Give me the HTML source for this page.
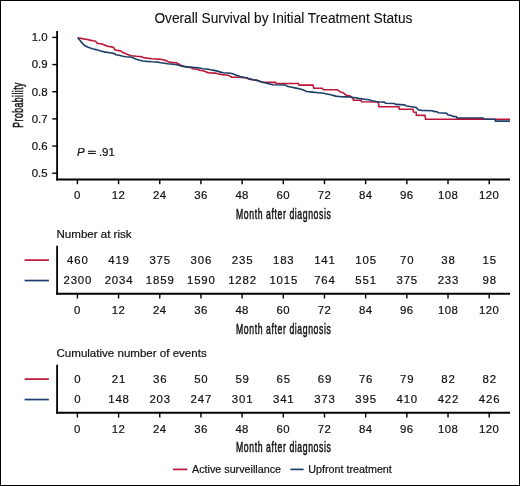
<!DOCTYPE html><html><head><meta charset="utf-8"><style>html,body{margin:0;padding:0;background:#fff;}svg{display:block;will-change:transform;}text{font-family:"Liberation Sans",sans-serif;fill:#111;stroke:#111;stroke-width:0.2px;}.cd{stroke-width:0.5px;}</style></head><body>
<svg width="520" height="486" viewBox="0 0 520 486">
<rect x="0" y="0" width="520" height="486" fill="#fff"/>
<rect x="0.5" y="0.5" width="519" height="485" fill="none" stroke="#000" stroke-width="1"/>
<text x="283.4" y="22.7" font-size="14" text-anchor="middle" textLength="258" style="stroke-width:0.1px" lengthAdjust="spacingAndGlyphs">Overall Survival by Initial Treatment Status</text>
<g stroke="#000" fill="none">
<line x1="57.1" y1="30.9" x2="57.1" y2="180.6" stroke-width="1.8"/>
<line x1="56.2" y1="179.6" x2="510" y2="179.6" stroke-width="2"/>
<line x1="52.3" y1="37.40" x2="57" y2="37.40" stroke-width="1.4"/>
<line x1="52.3" y1="64.56" x2="57" y2="64.56" stroke-width="1.4"/>
<line x1="52.3" y1="91.72" x2="57" y2="91.72" stroke-width="1.4"/>
<line x1="52.3" y1="118.88" x2="57" y2="118.88" stroke-width="1.4"/>
<line x1="52.3" y1="146.04" x2="57" y2="146.04" stroke-width="1.4"/>
<line x1="52.3" y1="173.20" x2="57" y2="173.20" stroke-width="1.4"/>
<line x1="77.40" y1="180" x2="77.40" y2="184.2" stroke-width="1.4"/>
<line x1="118.58" y1="180" x2="118.58" y2="184.2" stroke-width="1.4"/>
<line x1="159.76" y1="180" x2="159.76" y2="184.2" stroke-width="1.4"/>
<line x1="200.94" y1="180" x2="200.94" y2="184.2" stroke-width="1.4"/>
<line x1="242.12" y1="180" x2="242.12" y2="184.2" stroke-width="1.4"/>
<line x1="283.30" y1="180" x2="283.30" y2="184.2" stroke-width="1.4"/>
<line x1="324.48" y1="180" x2="324.48" y2="184.2" stroke-width="1.4"/>
<line x1="365.66" y1="180" x2="365.66" y2="184.2" stroke-width="1.4"/>
<line x1="406.84" y1="180" x2="406.84" y2="184.2" stroke-width="1.4"/>
<line x1="448.02" y1="180" x2="448.02" y2="184.2" stroke-width="1.4"/>
<line x1="489.20" y1="180" x2="489.20" y2="184.2" stroke-width="1.4"/>
</g>
<text x="47.6" y="41.20" font-size="11.4" text-anchor="end">1.0</text>
<text x="47.6" y="68.36" font-size="11.4" text-anchor="end">0.9</text>
<text x="47.6" y="95.52" font-size="11.4" text-anchor="end">0.8</text>
<text x="47.6" y="122.68" font-size="11.4" text-anchor="end">0.7</text>
<text x="47.6" y="149.84" font-size="11.4" text-anchor="end">0.6</text>
<text x="47.6" y="177.00" font-size="11.4" text-anchor="end">0.5</text>
<text x="77.40" y="199.4" font-size="11.4" text-anchor="middle" letter-spacing="0.4">0</text>
<text x="118.58" y="199.4" font-size="11.4" text-anchor="middle" letter-spacing="0.4">12</text>
<text x="159.76" y="199.4" font-size="11.4" text-anchor="middle" letter-spacing="0.4">24</text>
<text x="200.94" y="199.4" font-size="11.4" text-anchor="middle" letter-spacing="0.4">36</text>
<text x="242.12" y="199.4" font-size="11.4" text-anchor="middle" letter-spacing="0.4">48</text>
<text x="283.30" y="199.4" font-size="11.4" text-anchor="middle" letter-spacing="0.4">60</text>
<text x="324.48" y="199.4" font-size="11.4" text-anchor="middle" letter-spacing="0.4">72</text>
<text x="365.66" y="199.4" font-size="11.4" text-anchor="middle" letter-spacing="0.4">84</text>
<text x="406.84" y="199.4" font-size="11.4" text-anchor="middle" letter-spacing="0.4">96</text>
<text x="448.02" y="199.4" font-size="11.4" text-anchor="middle" letter-spacing="0.4">108</text>
<text x="489.20" y="199.4" font-size="11.4" text-anchor="middle" letter-spacing="0.4">120</text>
<text transform="translate(22.6,104.9) rotate(-90) scale(0.62,1)" x="0" y="0" font-size="14" text-anchor="middle" letter-spacing="0.74" class="cd">Probability</text>
<text x="77" y="155.9" font-size="11.4"><tspan font-style="italic">P</tspan><tspan x="98.9">.91</tspan></text>
<g stroke="#111" stroke-width="1.05"><line x1="88" y1="151.3" x2="95.85" y2="151.3"/><line x1="88" y1="153.45" x2="95.85" y2="153.45"/></g>
<text transform="translate(283.7,218.9) scale(0.62,1)" x="0" y="0" font-size="14" text-anchor="middle" letter-spacing="0.96" class="cd">Month after diagnosis</text>
<text transform="translate(283.7,333.6) scale(0.62,1)" x="0" y="0" font-size="14" text-anchor="middle" letter-spacing="0.96" class="cd">Month after diagnosis</text>
<text transform="translate(283.7,452.3) scale(0.62,1)" x="0" y="0" font-size="14" text-anchor="middle" letter-spacing="0.96" class="cd">Month after diagnosis</text>
<polyline points="77.7,37.8 80.6,38.2 84.7,39.1 87.5,39.5 89.8,40.1 93.3,40.8 95.6,41.2 97.3,43.2 100.2,43.8 102.9,44.3 105.8,45.5 107.5,46.3 111.5,46.9 113.6,47.5 115.0,49.8 117.3,50.4 120.8,51.0 122.5,52.4 124.8,53.3 126.5,54.1 128.9,55.1 131.5,55.8 136.7,56.3 141.3,56.6 143.0,57.5 147.0,58.1 152.2,58.7 158.0,59.1 162.3,59.5 163.5,60.1 166.4,60.6 168.1,61.8 171.0,62.4 176.2,62.7 178.2,63.8 180.2,65.0 184.0,66.6 191.5,67.8 192.7,68.7 197.8,69.2 199.6,70.3 203.0,70.7 205.4,71.5 207.1,72.4 210.0,73.0 215.5,73.1 217.8,73.8 220.7,74.4 223.5,74.7 228.2,75.3 230.5,76.4 231.6,77.2 236.2,77.2 240.0,77.2 243.5,77.6 246.9,78.0 248.7,78.9 253.3,79.9 257.3,80.5 259.6,81.3 261.9,82.2 264.8,82.4 275.5,82.4 276.1,83.4 298.3,83.5 299.2,85.1 313.0,85.1 313.9,88.1 322.3,88.3 323.5,89.7 337.0,89.7 338.7,90.6 340.5,92.1 343.3,92.7 345.1,94.4 346.8,95.5 350.3,96.1 351.6,97.2 352.9,98.7 353.5,100.1 361.0,100.3 361.5,101.8 378.3,102.0 379.0,106.7 398.8,106.7 399.4,109.2 412.9,109.2 413.5,112.1 416.1,112.3 416.4,115.3 425.0,115.4 425.6,119.2 510.0,119.2" fill="none" stroke="#bc1538" stroke-width="1.6" stroke-linejoin="miter"/>
<polyline points="77.7,37.9 79.5,39.8 81.8,42.6 84.7,45.5 87.5,47.0 90.4,48.1 93.3,49.0 96.2,49.6 99.1,50.4 102.3,51.4 105.8,52.1 111.5,53.0 114.4,53.6 115.9,54.7 119.0,55.3 123.0,56.2 126.0,56.7 130.0,57.0 132.6,57.5 134.9,58.7 137.2,59.5 140.7,60.4 143.0,61.0 147.0,61.4 152.2,61.8 158.0,62.1 160.6,62.7 164.7,63.2 167.5,63.8 173.3,64.3 176.8,64.7 179.1,65.3 181.4,66.1 187.5,66.9 192.7,67.4 198.4,67.8 203.0,68.7 208.2,69.3 210.5,69.8 214.0,70.4 216.6,70.9 220.7,72.1 223.5,72.7 230.5,73.2 232.8,73.8 235.1,74.7 238.0,75.8 240.0,76.6 243.5,77.3 246.9,77.8 248.7,78.8 253.3,79.8 257.3,80.4 259.6,81.2 261.9,82.1 264.8,82.7 266.0,82.9 269.5,84.1 272.9,84.8 285.6,85.0 286.8,86.1 289.1,86.7 292.0,87.3 296.0,88.1 299.2,88.7 302.7,89.8 306.7,91.5 312.5,92.1 318.2,92.7 324.0,93.2 325.5,93.8 330.7,94.7 335.8,96.1 341.0,96.7 346.2,96.9 350.0,97.0 353.5,97.5 358.7,98.4 364.4,99.2 369.0,99.8 371.9,100.7 376.0,101.5 378.0,101.8 384.3,102.1 385.5,103.2 394.2,103.5 395.9,104.4 404.5,104.9 406.3,106.0 408.3,106.3 416.4,107.5 418.1,109.8 421.6,110.4 432.0,110.7 433.7,111.4 436.9,111.8 438.0,112.7 446.7,113.2 447.8,114.7 451.3,115.5 453.0,116.4 456.5,116.7 457.1,118.1 483.1,118.1 484.0,119.2 495.0,119.2 495.5,121.1 510.0,121.1" fill="none" stroke="#1b3f68" stroke-width="1.6" stroke-linejoin="miter"/>
<line x1="457.2" y1="118.9" x2="483" y2="118.9" stroke="#bc1538" stroke-width="1.6" opacity="0.45"/>
<text x="56.5" y="237.9" font-size="11.55">Number at risk</text>
<g stroke="#000" fill="none">
<line x1="57.1" y1="245.8" x2="57.1" y2="294.8" stroke-width="1.8"/>
<line x1="56.2" y1="293.8" x2="510" y2="293.8" stroke-width="2"/>
<line x1="77.40" y1="294.0" x2="77.40" y2="298.5" stroke-width="1.4"/>
<line x1="118.58" y1="294.0" x2="118.58" y2="298.5" stroke-width="1.4"/>
<line x1="159.76" y1="294.0" x2="159.76" y2="298.5" stroke-width="1.4"/>
<line x1="200.94" y1="294.0" x2="200.94" y2="298.5" stroke-width="1.4"/>
<line x1="242.12" y1="294.0" x2="242.12" y2="298.5" stroke-width="1.4"/>
<line x1="283.30" y1="294.0" x2="283.30" y2="298.5" stroke-width="1.4"/>
<line x1="324.48" y1="294.0" x2="324.48" y2="298.5" stroke-width="1.4"/>
<line x1="365.66" y1="294.0" x2="365.66" y2="298.5" stroke-width="1.4"/>
<line x1="406.84" y1="294.0" x2="406.84" y2="298.5" stroke-width="1.4"/>
<line x1="448.02" y1="294.0" x2="448.02" y2="298.5" stroke-width="1.4"/>
<line x1="489.20" y1="294.0" x2="489.20" y2="298.5" stroke-width="1.4"/>
</g>
<line x1="24.6" y1="260.1" x2="48.9" y2="260.1" stroke="#bc1538" stroke-width="1.7"/>
<line x1="24.6" y1="280.55" x2="48.9" y2="280.55" stroke="#1b3f68" stroke-width="1.7"/>
<text x="77.85" y="263.6" font-size="11.4" text-anchor="middle" letter-spacing="0.85">460</text>
<text x="119.03" y="263.6" font-size="11.4" text-anchor="middle" letter-spacing="0.85">419</text>
<text x="160.21" y="263.6" font-size="11.4" text-anchor="middle" letter-spacing="0.85">375</text>
<text x="201.39" y="263.6" font-size="11.4" text-anchor="middle" letter-spacing="0.85">306</text>
<text x="242.57" y="263.6" font-size="11.4" text-anchor="middle" letter-spacing="0.85">235</text>
<text x="283.75" y="263.6" font-size="11.4" text-anchor="middle" letter-spacing="0.85">183</text>
<text x="324.93" y="263.6" font-size="11.4" text-anchor="middle" letter-spacing="0.85">141</text>
<text x="366.11" y="263.6" font-size="11.4" text-anchor="middle" letter-spacing="0.85">105</text>
<text x="407.29" y="263.6" font-size="11.4" text-anchor="middle" letter-spacing="0.85">70</text>
<text x="448.47" y="263.6" font-size="11.4" text-anchor="middle" letter-spacing="0.85">38</text>
<text x="489.65" y="263.6" font-size="11.4" text-anchor="middle" letter-spacing="0.85">15</text>
<text x="77.85" y="283.9" font-size="11.4" text-anchor="middle" letter-spacing="0.85">2300</text>
<text x="119.03" y="283.9" font-size="11.4" text-anchor="middle" letter-spacing="0.85">2034</text>
<text x="160.21" y="283.9" font-size="11.4" text-anchor="middle" letter-spacing="0.85">1859</text>
<text x="201.39" y="283.9" font-size="11.4" text-anchor="middle" letter-spacing="0.85">1590</text>
<text x="242.57" y="283.9" font-size="11.4" text-anchor="middle" letter-spacing="0.85">1282</text>
<text x="283.75" y="283.9" font-size="11.4" text-anchor="middle" letter-spacing="0.85">1015</text>
<text x="324.93" y="283.9" font-size="11.4" text-anchor="middle" letter-spacing="0.85">764</text>
<text x="366.11" y="283.9" font-size="11.4" text-anchor="middle" letter-spacing="0.85">551</text>
<text x="407.29" y="283.9" font-size="11.4" text-anchor="middle" letter-spacing="0.85">375</text>
<text x="448.47" y="283.9" font-size="11.4" text-anchor="middle" letter-spacing="0.85">233</text>
<text x="489.65" y="283.9" font-size="11.4" text-anchor="middle" letter-spacing="0.85">98</text>
<text x="77.40" y="313.8" font-size="11.4" text-anchor="middle" letter-spacing="0.4">0</text>
<text x="118.58" y="313.8" font-size="11.4" text-anchor="middle" letter-spacing="0.4">12</text>
<text x="159.76" y="313.8" font-size="11.4" text-anchor="middle" letter-spacing="0.4">24</text>
<text x="200.94" y="313.8" font-size="11.4" text-anchor="middle" letter-spacing="0.4">36</text>
<text x="242.12" y="313.8" font-size="11.4" text-anchor="middle" letter-spacing="0.4">48</text>
<text x="283.30" y="313.8" font-size="11.4" text-anchor="middle" letter-spacing="0.4">60</text>
<text x="324.48" y="313.8" font-size="11.4" text-anchor="middle" letter-spacing="0.4">72</text>
<text x="365.66" y="313.8" font-size="11.4" text-anchor="middle" letter-spacing="0.4">84</text>
<text x="406.84" y="313.8" font-size="11.4" text-anchor="middle" letter-spacing="0.4">96</text>
<text x="448.02" y="313.8" font-size="11.4" text-anchor="middle" letter-spacing="0.4">108</text>
<text x="489.20" y="313.8" font-size="11.4" text-anchor="middle" letter-spacing="0.4">120</text>
<text x="56.5" y="356.9" font-size="11.55">Cumulative number of events</text>
<g stroke="#000" fill="none">
<line x1="57.1" y1="364.8" x2="57.1" y2="413.8" stroke-width="1.8"/>
<line x1="56.2" y1="412.8" x2="510" y2="412.8" stroke-width="2"/>
<line x1="77.40" y1="413.0" x2="77.40" y2="417.5" stroke-width="1.4"/>
<line x1="118.58" y1="413.0" x2="118.58" y2="417.5" stroke-width="1.4"/>
<line x1="159.76" y1="413.0" x2="159.76" y2="417.5" stroke-width="1.4"/>
<line x1="200.94" y1="413.0" x2="200.94" y2="417.5" stroke-width="1.4"/>
<line x1="242.12" y1="413.0" x2="242.12" y2="417.5" stroke-width="1.4"/>
<line x1="283.30" y1="413.0" x2="283.30" y2="417.5" stroke-width="1.4"/>
<line x1="324.48" y1="413.0" x2="324.48" y2="417.5" stroke-width="1.4"/>
<line x1="365.66" y1="413.0" x2="365.66" y2="417.5" stroke-width="1.4"/>
<line x1="406.84" y1="413.0" x2="406.84" y2="417.5" stroke-width="1.4"/>
<line x1="448.02" y1="413.0" x2="448.02" y2="417.5" stroke-width="1.4"/>
<line x1="489.20" y1="413.0" x2="489.20" y2="417.5" stroke-width="1.4"/>
</g>
<line x1="24.6" y1="379.1" x2="48.9" y2="379.1" stroke="#bc1538" stroke-width="1.7"/>
<line x1="24.6" y1="399.55" x2="48.9" y2="399.55" stroke="#1b3f68" stroke-width="1.7"/>
<text x="77.85" y="382.6" font-size="11.4" text-anchor="middle" letter-spacing="0.85">0</text>
<text x="119.03" y="382.6" font-size="11.4" text-anchor="middle" letter-spacing="0.85">21</text>
<text x="160.21" y="382.6" font-size="11.4" text-anchor="middle" letter-spacing="0.85">36</text>
<text x="201.39" y="382.6" font-size="11.4" text-anchor="middle" letter-spacing="0.85">50</text>
<text x="242.57" y="382.6" font-size="11.4" text-anchor="middle" letter-spacing="0.85">59</text>
<text x="283.75" y="382.6" font-size="11.4" text-anchor="middle" letter-spacing="0.85">65</text>
<text x="324.93" y="382.6" font-size="11.4" text-anchor="middle" letter-spacing="0.85">69</text>
<text x="366.11" y="382.6" font-size="11.4" text-anchor="middle" letter-spacing="0.85">76</text>
<text x="407.29" y="382.6" font-size="11.4" text-anchor="middle" letter-spacing="0.85">79</text>
<text x="448.47" y="382.6" font-size="11.4" text-anchor="middle" letter-spacing="0.85">82</text>
<text x="489.65" y="382.6" font-size="11.4" text-anchor="middle" letter-spacing="0.85">82</text>
<text x="77.85" y="402.9" font-size="11.4" text-anchor="middle" letter-spacing="0.85">0</text>
<text x="119.03" y="402.9" font-size="11.4" text-anchor="middle" letter-spacing="0.85">148</text>
<text x="160.21" y="402.9" font-size="11.4" text-anchor="middle" letter-spacing="0.85">203</text>
<text x="201.39" y="402.9" font-size="11.4" text-anchor="middle" letter-spacing="0.85">247</text>
<text x="242.57" y="402.9" font-size="11.4" text-anchor="middle" letter-spacing="0.85">301</text>
<text x="283.75" y="402.9" font-size="11.4" text-anchor="middle" letter-spacing="0.85">341</text>
<text x="324.93" y="402.9" font-size="11.4" text-anchor="middle" letter-spacing="0.85">373</text>
<text x="366.11" y="402.9" font-size="11.4" text-anchor="middle" letter-spacing="0.85">395</text>
<text x="407.29" y="402.9" font-size="11.4" text-anchor="middle" letter-spacing="0.85">410</text>
<text x="448.47" y="402.9" font-size="11.4" text-anchor="middle" letter-spacing="0.85">422</text>
<text x="489.65" y="402.9" font-size="11.4" text-anchor="middle" letter-spacing="0.85">426</text>
<text x="77.40" y="432.8" font-size="11.4" text-anchor="middle" letter-spacing="0.4">0</text>
<text x="118.58" y="432.8" font-size="11.4" text-anchor="middle" letter-spacing="0.4">12</text>
<text x="159.76" y="432.8" font-size="11.4" text-anchor="middle" letter-spacing="0.4">24</text>
<text x="200.94" y="432.8" font-size="11.4" text-anchor="middle" letter-spacing="0.4">36</text>
<text x="242.12" y="432.8" font-size="11.4" text-anchor="middle" letter-spacing="0.4">48</text>
<text x="283.30" y="432.8" font-size="11.4" text-anchor="middle" letter-spacing="0.4">60</text>
<text x="324.48" y="432.8" font-size="11.4" text-anchor="middle" letter-spacing="0.4">72</text>
<text x="365.66" y="432.8" font-size="11.4" text-anchor="middle" letter-spacing="0.4">84</text>
<text x="406.84" y="432.8" font-size="11.4" text-anchor="middle" letter-spacing="0.4">96</text>
<text x="448.02" y="432.8" font-size="11.4" text-anchor="middle" letter-spacing="0.4">108</text>
<text x="489.20" y="432.8" font-size="11.4" text-anchor="middle" letter-spacing="0.4">120</text>
<line x1="172.9" y1="469.4" x2="187.3" y2="469.4" stroke="#bc1538" stroke-width="1.7"/>
<text x="192.0" y="472.7" font-size="10.75">Active surveillance</text>
<line x1="290.4" y1="469.4" x2="303.6" y2="469.4" stroke="#1b3f68" stroke-width="1.7"/>
<text x="308.2" y="472.7" font-size="10.75">Upfront treatment</text>
</svg></body></html>
